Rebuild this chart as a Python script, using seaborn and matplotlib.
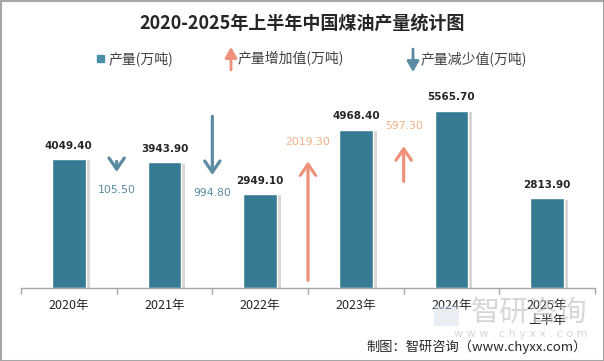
import numpy as np
import pandas as pd
import matplotlib
matplotlib.use("Agg")
import matplotlib.pyplot as plt
import matplotlib.patheffects as pe
from matplotlib.patches import Rectangle, FancyArrowPatch
import seaborn as sns

# data
years = ["2020年", "2021年", "2022年", "2023年", "2024年", "2025年\n上半年"]
output = [4049.40, 3943.90, 2949.10, 4968.40, 5565.70, 2813.90]
# change between neighbouring bars (drawn only between full years)
changes = [-105.50, -994.80, 2019.30, 597.30]

title = "2020-2025年上半年中国煤油产量统计图"
source = "制图：智研咨询（www.chyxx.com）"

bar_color = "#367B94"
up_color = "#EE907A"
up_text = "#F4B183"
down_color = "#5A8BA3"

sns.set_theme(style="white")
plt.rcParams["font.family"] = ["Noto Sans CJK SC", "DejaVu Sans"]

fig = plt.figure(figsize=(6.04, 3.61), dpi=100)
ax = fig.add_axes([21 / 604, 1 - 288 / 361, 574 / 604, 207 / 361])

df = pd.DataFrame({"year": years, "output": output})
sns.barplot(data=df, x="year", y="output", color=bar_color, width=0.35,
            saturation=1, edgecolor="white", linewidth=1, ax=ax)
for p in ax.patches:
    p.set_path_effects([pe.SimplePatchShadow(offset=(3, -1), shadow_rgbFace="#9a9a9a", alpha=0.4),
                        pe.Normal()])

ax.set_ylim(0, 6500)
ax.set_xlim(-0.5, len(years) - 0.5)
ax.set_xlabel("")
ax.set_ylabel("")
ax.set_yticks([])
for s in ["left", "right", "top"]:
    ax.spines[s].set_visible(False)
ax.spines["bottom"].set_color("#A6A6A6")
ax.spines["bottom"].set_linewidth(1)
ax.tick_params(axis="x", which="major", length=0, labelsize=9, colors="#262626", pad=8)
ax.set_xticks(np.arange(-0.5, len(years)), minor=True)
ax.tick_params(axis="x", which="minor", length=4, width=1, color="#A6A6A6", bottom=True)

# value labels
for i, v in enumerate(output):
    ax.annotate(f"{v:.2f}", (i, v), xytext=(0, 6), textcoords="offset points",
                ha="center", va="bottom", fontsize=7.5, fontweight="bold",
                color="#262626", family=["DejaVu Sans"])

# change arrows between bars
for i, c in enumerate(changes):
    x = i + 0.5
    size = max(abs(c) * 1.85, 330)
    if c > 0:
        tip = 0.8 * output[i + 1]
        tail = tip - size
        col, tcol = up_color, up_text
        label_y = tip + 620
    else:
        tip = 0.9 * output[i]
        tail = tip + size
        col, tcol = down_color, down_color
        label_y = tip - 560
    ax.annotate("", xy=(x, tip), xytext=(x, tail),
                arrowprops=dict(arrowstyle="->,head_length=0.8,head_width=0.55",
                                color=col, lw=2.3, mutation_scale=10,
                                shrinkA=0, shrinkB=0))
    ax.text(x, label_y, f"{abs(c):.2f}", ha="center", va="center",
            fontsize=7.8, color=tcol, family=["DejaVu Sans"])

# title
fig.text(302 / 604, 1 - 23 / 361, title, ha="center", va="center",
         fontsize=13, fontweight="bold", color="#262626")

# legend drawn by hand
ly = 1 - 58.5 / 361
fig.add_artist(Rectangle((97 / 604, 1 - 62 / 361), 7 / 604, 7 / 361,
                         transform=fig.transFigure, color="#4A8FA8"))
fig.text(109 / 604, ly, "产量(万吨)", ha="left", va="center", fontsize=10, color="#404040")
fig.add_artist(FancyArrowPatch((231 / 604, 1 - 70 / 361), (231 / 604, 1 - 47 / 361),
                               transform=fig.transFigure,
                               arrowstyle="-|>,head_length=0.7,head_width=0.4",
                               mutation_scale=9, color=up_color, lw=2,
                               shrinkA=0, shrinkB=0))
fig.text(238 / 604, ly, "产量增加值(万吨)", ha="left", va="center", fontsize=10, color="#404040")
fig.add_artist(FancyArrowPatch((413 / 604, 1 - 49 / 361), (413 / 604, 1 - 72 / 361),
                               transform=fig.transFigure,
                               arrowstyle="-|>,head_length=0.7,head_width=0.4",
                               mutation_scale=9, color=down_color, lw=2,
                               shrinkA=0, shrinkB=0))
fig.text(421 / 604, ly, "产量减少值(万吨)", ha="left", va="center", fontsize=10, color="#404040")

# watermark
fig.text(587 / 604, 1 - 313 / 361, "智研咨询", ha="right", va="center",
         fontsize=21, color="#BDBDBD", alpha=0.6)
fig.text(587 / 604, 1 - 334 / 361, "w w w . c h y x x . c o m", ha="right", va="center",
         fontsize=8, color="#BDBDBD", alpha=0.6, family=["DejaVu Sans"])
fig.add_artist(Rectangle((434 / 604, 1 - 326 / 361), 25 / 604, 20 / 361,
                         transform=fig.transFigure, facecolor="#D3DEE8",
                         edgecolor="none", alpha=0.5))

# source
fig.text(587 / 604, 1 - 347 / 361, source, ha="right", va="center",
         fontsize=9.5, color="#262626")

# outer frame
fig.add_artist(Rectangle((0.5 / 604, 0.5 / 361), 603 / 604, 360 / 361,
                         transform=fig.transFigure, fill=False,
                         edgecolor="#A6A6A6", lw=1.5))

fig.savefig("out.png", dpi=100)
